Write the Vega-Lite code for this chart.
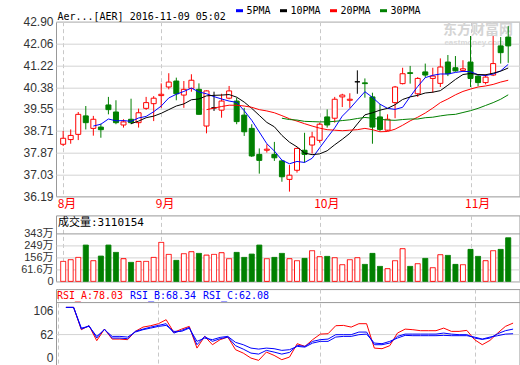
{
"$schema": "https://vega.github.io/schema/vega-lite/v6.json",
"padding": {"left": 0, "top": 4.7, "right": 0, "bottom": 0},
"background": "#ffffff",
"spacing": 18.7,
"bounds": "flush",
"config": {
  "view": {"stroke": "#999999", "strokeWidth": 1},
  "axis": {"ticks": false, "domain": false, "labelFont": "Liberation Sans, Noto Sans CJK SC", "labelFontSize": 12, "labelColor": "#333333", "labelPadding": 3, "gridColor": "#d3d3d3", "gridWidth": 1, "labelOverlap": false, "labelSeparation": 0},
  "axisX": {"gridDash": [4, 3], "gridColor": "#c8c8c8"},
  "legend": {"padding": 0}
},
"resolve": {"scale": {"color": "independent", "x": "independent", "y": "independent"}, "legend": {"color": "independent"}},
"datasets": {
"days": [
{"i":0,"open":38.19,"high":38.7,"low":38.12,"close":38.42,"vol":125.1},
{"i":1,"open":38.37,"high":38.76,"low":38.21,"close":38.53,"vol":138.5,"RSI_A":112.2,"RSI_B":112.2,"RSI_C":112.2},
{"i":2,"open":38.57,"high":39.43,"low":38.35,"close":39.34,"vol":156.6,"RSI_A":112.2,"RSI_B":112.2,"RSI_C":112.2},
{"i":3,"open":39.28,"high":39.66,"low":38.76,"close":39.02,"vol":253.3,"RSI_A":70.2,"RSI_B":71.3,"RSI_C":73.2},
{"i":4,"open":38.8,"high":39.28,"low":38.52,"close":39.15,"vol":130.6,"5PMA":38.89,"RSI_A":77.7,"RSI_B":77.7,"RSI_C":76.4},
{"i":5,"open":38.85,"high":38.98,"low":38.44,"close":38.75,"vol":166.8,"5PMA":38.96,"RSI_A":49.5,"RSI_B":54.4,"RSI_C":57.6},
{"i":6,"open":39.7,"high":40.01,"low":39.34,"close":39.52,"vol":253.3,"5PMA":39.16,"RSI_A":71.3,"RSI_B":71.3,"RSI_C":70.2},
{"i":7,"open":39.43,"high":39.88,"low":38.96,"close":39.02,"vol":195.9,"5PMA":39.09,"RSI_A":52.5,"RSI_B":54.4,"RSI_C":57.6},
{"i":8,"open":38.93,"high":39.15,"low":38.83,"close":39.05,"vol":146.4,"5PMA":39.1,"RSI_A":52.5,"RSI_B":54.4,"RSI_C":57.6},
{"i":9,"open":39.15,"high":39.94,"low":38.96,"close":39.02,"vol":117.3,"5PMA":39.07,"10PMA":38.98,"RSI_A":51.4,"RSI_B":53.2,"RSI_C":56.3},
{"i":10,"open":39.02,"high":39.56,"low":38.83,"close":39.4,"vol":125.1,"5PMA":39.2,"10PMA":39.08,"RSI_A":67.0,"RSI_B":67.0,"RSI_C":65.7},
{"i":11,"open":39.57,"high":40.01,"low":39.51,"close":39.79,"vol":125.1,"5PMA":39.26,"10PMA":39.21,"RSI_A":75.1,"RSI_B":71.3,"RSI_C":70.2},
{"i":12,"open":39.75,"high":40.04,"low":39.08,"close":39.96,"vol":156.6,"5PMA":39.44,"10PMA":39.27,"RSI_A":77.7,"RSI_B":75.1,"RSI_C":73.2},
{"i":13,"open":40.06,"high":40.53,"low":39.59,"close":40.11,"vol":274.6,"5PMA":39.66,"10PMA":39.38,"RSI_A":81.5,"RSI_B":78.3,"RSI_C":76.4},
{"i":14,"open":40.39,"high":40.92,"low":40.3,"close":40.58,"vol":180.2,"5PMA":39.97,"10PMA":39.52,"RSI_A":89.0,"RSI_B":81.5,"RSI_C":78.3},
{"i":15,"open":40.62,"high":40.75,"low":39.88,"close":40.13,"vol":133.0,"5PMA":40.11,"10PMA":39.66,"RSI_A":65.1,"RSI_B":63.8,"RSI_C":67.0},
{"i":16,"open":40.08,"high":40.62,"low":39.59,"close":40.3,"vol":185.7,"5PMA":40.22,"10PMA":39.74,"RSI_A":71.3,"RSI_B":68.9,"RSI_C":67.0},
{"i":17,"open":40.34,"high":40.88,"low":40.21,"close":40.65,"vol":201.4,"5PMA":40.35,"10PMA":39.9,"RSI_A":76.4,"RSI_B":74.5,"RSI_C":73.2},
{"i":18,"open":40.3,"high":40.53,"low":39.34,"close":39.34,"vol":188.0,"5PMA":40.2,"10PMA":39.93,"RSI_A":35.5,"RSI_B":41.9,"RSI_C":48.2},
{"i":19,"open":38.89,"high":40.26,"low":38.61,"close":40.24,"vol":174.7,"5PMA":40.13,"10PMA":40.05,"20PMA":39.52,"RSI_A":57.6,"RSI_B":57.6,"RSI_C":54.4},
{"i":20,"open":39.59,"high":40.21,"low":39.47,"close":39.59,"vol":180.2,"5PMA":40.02,"10PMA":40.07,"20PMA":39.58,"RSI_A":41.9,"RSI_B":48.2,"RSI_C":51.4},
{"i":21,"open":39.5,"high":40.13,"low":39.21,"close":39.85,"vol":193.6,"5PMA":39.93,"10PMA":40.08,"20PMA":39.64,"RSI_A":51.4,"RSI_B":53.2,"RSI_C":55.7},
{"i":22,"open":39.96,"high":40.43,"low":39.92,"close":40.24,"vol":146.4,"5PMA":39.85,"10PMA":40.1,"20PMA":39.69,"RSI_A":56.3,"RSI_B":56.3,"RSI_C":57.6},
{"i":23,"open":39.85,"high":39.98,"low":38.96,"close":39.06,"vol":195.9,"5PMA":39.8,"10PMA":40.0,"20PMA":39.69,"RSI_A":32.5,"RSI_B":40.0,"RSI_C":46.3},
{"i":24,"open":39.31,"high":39.59,"low":38.51,"close":38.67,"vol":156.6,"5PMA":39.48,"10PMA":39.81,"20PMA":39.66,"RSI_A":26.1,"RSI_B":33.6,"RSI_C":41.9},
{"i":25,"open":38.8,"high":38.96,"low":37.7,"close":37.74,"vol":182.5,"5PMA":39.11,"10PMA":39.57,"20PMA":39.61,"RSI_A":16.7,"RSI_B":26.1,"RSI_C":35.5},
{"i":26,"open":37.8,"high":38.03,"low":37.06,"close":37.57,"vol":253.3,"5PMA":38.66,"10PMA":39.3,"20PMA":39.52,"RSI_A":12.4,"RSI_B":24.2,"RSI_C":33.6},
{"i":27,"open":37.96,"high":38.19,"low":37.87,"close":38.0,"vol":146.4,"5PMA":38.21,"10PMA":39.03,"20PMA":39.47,"RSI_A":28.0,"RSI_B":31.2,"RSI_C":35.5},
{"i":28,"open":37.8,"high":38.28,"low":37.55,"close":37.67,"vol":156.6,"5PMA":37.93,"10PMA":38.86,"20PMA":39.4,"RSI_A":21.8,"RSI_B":28.0,"RSI_C":34.4},
{"i":29,"open":37.55,"high":37.58,"low":36.75,"close":36.94,"vol":188.0,"5PMA":37.58,"10PMA":38.53,"20PMA":39.29,"30PMA":39.19,"RSI_A":13.7,"RSI_B":24.2,"RSI_C":31.2},
{"i":30,"open":36.84,"high":37.39,"low":36.37,"close":37.0,"vol":146.4,"5PMA":37.44,"10PMA":38.27,"20PMA":39.17,"30PMA":39.14,"RSI_A":18.6,"RSI_B":27.4,"RSI_C":32.5},
{"i":31,"open":37.19,"high":38.06,"low":37.1,"close":38.03,"vol":130.6,"5PMA":37.53,"10PMA":38.09,"20PMA":39.08,"30PMA":39.12,"RSI_A":43.8,"RSI_B":40.6,"RSI_C":38.7},
{"i":32,"open":37.96,"high":38.63,"low":37.48,"close":37.8,"vol":148.7,"5PMA":37.49,"10PMA":37.85,"20PMA":38.98,"30PMA":39.07,"RSI_A":38.7,"RSI_B":38.7,"RSI_C":37.4},
{"i":33,"open":38.16,"high":38.67,"low":37.83,"close":38.47,"vol":209.3,"5PMA":37.65,"10PMA":37.79,"20PMA":38.89,"30PMA":39.06,"RSI_A":51.4,"RSI_B":48.2,"RSI_C":45.0},
{"i":34,"open":38.34,"high":39.02,"low":38.25,"close":38.96,"vol":162.1,"5PMA":38.05,"10PMA":37.82,"20PMA":38.81,"30PMA":39.05,"RSI_A":61.9,"RSI_B":51.4,"RSI_C":48.2},
{"i":35,"open":39.24,"high":39.53,"low":38.83,"close":38.93,"vol":164.5,"5PMA":38.44,"10PMA":37.94,"20PMA":38.75,"30PMA":39.05,"RSI_A":62.6,"RSI_B":52.5,"RSI_C":48.2},
{"i":36,"open":39.19,"high":40.01,"low":39.02,"close":39.92,"vol":154.2,"5PMA":38.82,"10PMA":38.17,"20PMA":38.73,"30PMA":39.07,"RSI_A":77.7,"RSI_B":60.8,"RSI_C":56.3},
{"i":37,"open":40.01,"high":40.13,"low":39.62,"close":40.08,"vol":99.2,"5PMA":39.27,"10PMA":38.38,"20PMA":38.71,"30PMA":39.1,"RSI_A":78.3,"RSI_B":60.8,"RSI_C":57.6},
{"i":38,"open":39.88,"high":40.15,"low":39.59,"close":39.92,"vol":138.5,"5PMA":39.56,"10PMA":38.61,"20PMA":38.73,"30PMA":39.13,"RSI_A":75.1,"RSI_B":60.8,"RSI_C":57.6},
{"i":39,"open":40.59,"high":41.03,"low":40.13,"close":40.59,"vol":154.2,"5PMA":39.89,"10PMA":38.97,"20PMA":38.75,"30PMA":39.18,"RSI_A":81.5,"RSI_B":65.7,"RSI_C":60.8},
{"i":40,"open":40.55,"high":40.72,"low":39.98,"close":40.52,"vol":101.5,"5PMA":40.21,"10PMA":39.32,"20PMA":38.8,"30PMA":39.22,"RSI_A":81.5,"RSI_B":65.7,"RSI_C":61.9},
{"i":41,"open":40.01,"high":40.17,"low":38.21,"close":38.85,"vol":188.0,"5PMA":39.99,"10PMA":39.4,"20PMA":38.75,"30PMA":39.19,"RSI_A":35.5,"RSI_B":41.9,"RSI_C":45.0},
{"i":42,"open":39.24,"high":39.73,"low":38.7,"close":38.76,"vol":85.8,"5PMA":39.73,"10PMA":39.5,"20PMA":38.67,"30PMA":39.15,"RSI_A":34.4,"RSI_B":41.9,"RSI_C":43.8},
{"i":43,"open":38.73,"high":39.34,"low":38.7,"close":39.15,"vol":67.7,"5PMA":39.57,"10PMA":39.57,"20PMA":38.68,"30PMA":39.12,"RSI_A":40.0,"RSI_B":45.0,"RSI_C":48.2},
{"i":44,"open":39.79,"high":40.43,"low":39.19,"close":40.39,"vol":130.6,"5PMA":39.53,"10PMA":39.71,"20PMA":38.77,"30PMA":39.11,"RSI_A":63.8,"RSI_B":57.6,"RSI_C":54.4},
{"i":45,"open":40.52,"high":41.13,"low":40.49,"close":40.9,"vol":225.0,"5PMA":39.61,"10PMA":39.91,"20PMA":38.92,"30PMA":39.14,"RSI_A":71.3,"RSI_B":61.9,"RSI_C":59.5},
{"i":46,"open":40.94,"high":41.2,"low":40.52,"close":40.91,"vol":85.8,"5PMA":40.02,"10PMA":40.01,"20PMA":39.09,"30PMA":39.16,"RSI_A":70.2,"RSI_B":61.9,"RSI_C":58.9},
{"i":47,"open":40.13,"high":40.77,"low":40.01,"close":40.72,"vol":107.0,"5PMA":40.41,"10PMA":40.07,"20PMA":39.23,"30PMA":39.16,"RSI_A":68.3,"RSI_B":61.9,"RSI_C":58.9},
{"i":48,"open":40.97,"high":41.29,"low":40.75,"close":40.85,"vol":148.7,"5PMA":40.75,"10PMA":40.16,"20PMA":39.39,"30PMA":39.21,"RSI_A":68.3,"RSI_B":61.9,"RSI_C":58.9},
{"i":49,"open":40.72,"high":41.13,"low":40.17,"close":40.81,"vol":75.6,"5PMA":40.84,"10PMA":40.19,"20PMA":39.58,"30PMA":39.23,"RSI_A":68.3,"RSI_B":61.9,"RSI_C":58.9},
{"i":50,"open":40.53,"high":41.49,"low":40.39,"close":41.16,"vol":177.8,"5PMA":40.89,"10PMA":40.25,"20PMA":39.79,"30PMA":39.28,"RSI_A":73.2,"RSI_B":63.8,"RSI_C":59.5},
{"i":51,"open":41.35,"high":41.62,"low":40.81,"close":40.9,"vol":172.3,"5PMA":40.89,"10PMA":40.46,"20PMA":39.93,"30PMA":39.32,"RSI_A":67.0,"RSI_B":61.9,"RSI_C":58.9},
{"i":52,"open":41.13,"high":41.58,"low":40.98,"close":41.01,"vol":101.5,"5PMA":40.95,"10PMA":40.68,"20PMA":40.09,"30PMA":39.34,"RSI_A":67.0,"RSI_B":60.8,"RSI_C":58.9},
{"i":53,"open":41.03,"high":41.42,"low":41.01,"close":41.09,"vol":99.2,"5PMA":40.99,"10PMA":40.87,"20PMA":40.22,"30PMA":39.41,"RSI_A":68.9,"RSI_B":60.8,"RSI_C":58.9},
{"i":54,"open":41.35,"high":42.35,"low":40.39,"close":40.72,"vol":219.5,"5PMA":40.98,"10PMA":40.91,"20PMA":40.31,"30PMA":39.48,"RSI_A":51.4,"RSI_B":54.4,"RSI_C":56.3},
{"i":55,"open":40.81,"high":40.85,"low":40.42,"close":40.56,"vol":164.5,"5PMA":40.86,"10PMA":40.87,"20PMA":40.39,"30PMA":39.57,"RSI_A":41.9,"RSI_B":51.9,"RSI_C":52.5},
{"i":56,"open":40.56,"high":40.88,"low":40.49,"close":40.77,"vol":130.6,"5PMA":40.83,"10PMA":40.86,"20PMA":40.43,"30PMA":39.68,"RSI_A":50.0,"RSI_B":54.4,"RSI_C":56.3},
{"i":57,"open":40.85,"high":42.35,"low":40.81,"close":41.29,"vol":209.3,"5PMA":40.89,"10PMA":40.92,"20PMA":40.49,"30PMA":39.79,"RSI_A":63.8,"RSI_B":62.6,"RSI_C":58.9},
{"i":58,"open":41.97,"high":42.31,"low":41.29,"close":41.71,"vol":219.5,"5PMA":41.01,"10PMA":41.0,"20PMA":40.58,"30PMA":39.92,"RSI_A":76.4,"RSI_B":68.3,"RSI_C":61.9},
{"i":59,"open":42.31,"high":42.73,"low":41.32,"close":41.97,"vol":311.0,"5PMA":41.26,"10PMA":41.12,"20PMA":40.65,"30PMA":40.09,"RSI_A":82.6,"RSI_B":71.3,"RSI_C":62.6}
],
"marks": [{"brand": "东方财富网", "site": "eastmoney.com"}]
},
"vconcat": [
{
  "width": 463.5, "height": 174.6,
  "layer": [
    {"data": {"name": "marks"},
     "mark": {"type": "text", "font": "Noto Sans CJK SC", "fontSize": 14, "fontWeight": "bold", "color": "#d4d4d4", "align": "center", "baseline": "middle"},
     "encoding": {
       "x": {"datum": 55.0, "type": "quantitative", "title": null, "scale": {"domain": [-0.285, 59.83], "nice": false, "zero": false},
             "axis": {"values": [0, 13, 34, 54], "grid": true, "labelExpr": "datum.value == 0 ? '8月' : datum.value == 13 ? '9月' : datum.value == 34 ? '10月' : '11月'", "labelColor": "#ff0000", "labelFont": "Noto Sans CJK SC", "labelFontSize": 12, "labelAlign": "left", "labelOffset": -6, "labelPadding": 2, "labelBaseline": "top", "labelFlush": false, "labelOverlap": false}},
       "y": {"datum": 42.6, "type": "quantitative", "title": null, "scale": {"domain": [36.19, 42.9], "nice": false, "zero": false},
             "axis": {"values": [36.19, 37.03, 37.87, 38.71, 39.55, 40.38, 41.22, 42.06, 42.9], "format": ".2f", "grid": true, "labelOverlap": false, "labelSeparation": 0, "labelBound": false, "minExtent": 55.5}},
       "text": {"field": "brand"}
     }},
    {"data": {"name": "marks"},
     "mark": {"type": "text", "font": "Liberation Sans", "fontSize": 8, "fontWeight": "bold", "color": "#d8d8d8", "align": "center", "baseline": "middle"},
     "encoding": {
       "x": {"datum": 54.5, "type": "quantitative", "title": null},
       "y": {"datum": 42.09, "type": "quantitative", "title": null, "axis": {"values": [36.19, 37.03, 37.87, 38.71, 39.55, 40.38, 41.22, 42.06, 42.9], "format": ".2f", "grid": true, "labelOverlap": false, "labelSeparation": 0, "labelBound": false, "minExtent": 55.5}},
       "text": {"field": "site"}
     }},
    {"data": {"name": "days"},
     "mark": {"type": "rule", "strokeWidth": 1},
     "encoding": {
       "x": {"field": "i", "type": "quantitative", "title": null},
       "y": {"field": "low", "type": "quantitative", "title": null, "axis": {"values": [36.19, 37.03, 37.87, 38.71, 39.55, 40.38, 41.22, 42.06, 42.9], "format": ".2f", "grid": true, "labelOverlap": false, "labelSeparation": 0, "labelBound": false, "minExtent": 55.5}},
       "y2": {"field": "high"},
       "color": {"condition": [{"test": "datum.close > datum.open", "value": "#ff0000"}, {"test": "datum.close < datum.open", "value": "#008000"}], "value": "#000000"}
     }},
    {"data": {"name": "days"},
     "mark": {"type": "bar", "size": 5, "strokeWidth": 1},
     "encoding": {
       "x": {"field": "i", "type": "quantitative", "title": null},
       "y": {"field": "open", "type": "quantitative", "title": null, "axis": {"values": [36.19, 37.03, 37.87, 38.71, 39.55, 40.38, 41.22, 42.06, 42.9], "format": ".2f", "grid": true, "labelOverlap": false, "labelSeparation": 0, "labelBound": false, "minExtent": 55.5}},
       "y2": {"field": "close"},
       "fill": {"condition": {"test": "datum.close < datum.open", "value": "#008000"}, "value": "#ffffff"},
       "stroke": {"condition": [{"test": "datum.close > datum.open", "value": "#ff0000"}, {"test": "datum.close < datum.open", "value": "#008000"}], "value": "#000000"}
     }},
    {"data": {"name": "days"},
     "transform": [{"fold": ["5PMA", "10PMA", "20PMA", "30PMA"], "as": ["ma", "value"]}],
     "mark": {"type": "line", "strokeWidth": 1},
     "encoding": {
       "x": {"field": "i", "type": "quantitative", "title": null},
       "y": {"field": "value", "type": "quantitative", "title": null, "axis": {"values": [36.19, 37.03, 37.87, 38.71, 39.55, 40.38, 41.22, 42.06, 42.9], "format": ".2f", "grid": true, "labelOverlap": false, "labelSeparation": 0, "labelBound": false, "minExtent": 55.5}},
       "color": {"field": "ma", "type": "nominal", "scale": {"domain": ["5PMA", "10PMA", "20PMA", "30PMA"], "range": ["#0000ff", "#000000", "#ff0000", "#008000"]},
                 "legend": {"orient": "none", "legendX": 1.5, "legendY": -16, "direction": "horizontal",
                            "title": "Aer...[AER] 2016-11-09 05:02", "titleOrient": "left", "titleFont": "DejaVu Sans Mono", "titleFontSize": 10, "titleFontWeight": "normal", "titleColor": "#000000", "titlePadding": 8, "titleBaseline": "top",
                            "symbolType": "stroke", "symbolSize": 49, "symbolStrokeWidth": 3, "labelFont": "DejaVu Sans Mono", "labelFontSize": 10, "labelColor": "#000000", "labelOffset": 2, "columnPadding": 2}}
     }}
  ]
},
{
  "spacing": 7.7,
  "bounds": "flush",
  "resolve": {"scale": {"color": "independent", "x": "independent", "y": "independent", "strokeDash": "independent"}, "legend": {"color": "independent", "strokeDash": "independent"}},
  "vconcat": [
    {
      "width": 463.5, "height": 66,
      "data": {"name": "days"},
      "mark": {"type": "bar", "size": 5, "strokeWidth": 1},
      "encoding": {
        "x": {"field": "i", "type": "quantitative", "title": null, "scale": {"domain": [-0.285, 59.83], "nice": false, "zero": false},
              "axis": {"values": [0, 13, 34, 54], "grid": true, "labels": false}},
        "y": {"field": "vol", "type": "quantitative", "title": null, "scale": {"domain": [-32.2, 487.1], "nice": false, "zero": false},
              "axis": {"values": [-32.2, 61.6, 156, 249, 343], "grid": true, "labelFontSize": 11, "labelExpr": "datum.value < 0 ? '0' : datum.value + '万'", "gridColor": {"condition": {"test": "datum.value > 300", "value": "#999999"}, "value": "#d3d3d3"}, "minExtent": 55.5}},
        "y2": {"datum": -32.2},
        "fill": {"condition": {"test": "datum.close < datum.open", "value": "#008000"}, "value": "#ffffff"},
        "stroke": {"condition": {"test": "datum.close < datum.open", "value": "#008000"}, "value": "#ff0000"},
        "strokeDash": {"datum": "成交量:3110154", "type": "nominal", "scale": {"range": [[1, 0]]},
                       "legend": {"orient": "top-left", "offset": 1.5, "title": null, "symbolSize": 1, "symbolOpacity": 0, "symbolStrokeWidth": 0, "labelOffset": -11, "labelFont": "DejaVu Sans Mono, Noto Sans CJK SC", "labelFontSize": 11, "labelColor": "#000000"}}
      }
    },
    {
      "width": 463.5, "height": 76,
      "data": {"name": "days"},
      "transform": [{"fold": ["RSI_A", "RSI_B", "RSI_C"], "as": ["series", "value"]}],
      "mark": {"type": "line", "strokeWidth": 1},
      "encoding": {
        "x": {"field": "i", "type": "quantitative", "title": null, "scale": {"domain": [-0.285, 59.83], "nice": false, "zero": false},
              "axis": {"values": [0, 13, 34, 54], "grid": true, "labels": false}},
        "y": {"field": "value", "type": "quantitative", "title": null, "scale": {"domain": [3.5, 146.7], "nice": false, "zero": false},
              "axis": {"values": [18, 62, 106, 122.2], "grid": true, "labelExpr": "datum.value == 18 ? '0' : datum.value > 120 ? '' : datum.label", "gridColor": {"condition": {"test": "datum.value > 120", "value": "#999999"}, "value": "#d3d3d3"}, "gridOpacity": {"condition": {"test": "datum.value == 62 || datum.value > 120", "value": 1}, "value": 0}, "minExtent": 55.5}},
        "color": {"field": "series", "type": "nominal", "scale": {"domain": ["RSI_A", "RSI_B", "RSI_C"], "range": ["#ff0000", "#0000ff", "#0000ff"]},
                  "legend": {"orient": "top-left", "offset": 1.5, "direction": "horizontal", "title": null, "symbolSize": 1, "symbolOpacity": 0, "symbolStrokeWidth": 0, "labelOffset": -11, "columnPadding": 6, "labelFont": "DejaVu Sans Mono", "labelFontSize": 10,
                             "labelExpr": "datum.value == 'RSI_A' ? 'RSI_A:78.03' : datum.value == 'RSI_B' ? 'RSI_B:68.34' : 'RSI_C:62.08'",
                             "encode": {"labels": {"update": {"fill": {"signal": "datum.value === 'RSI_A' ? '#ff0000' : '#0000ff'"}}}}}}
      }
    }
  ]
}
]
}
